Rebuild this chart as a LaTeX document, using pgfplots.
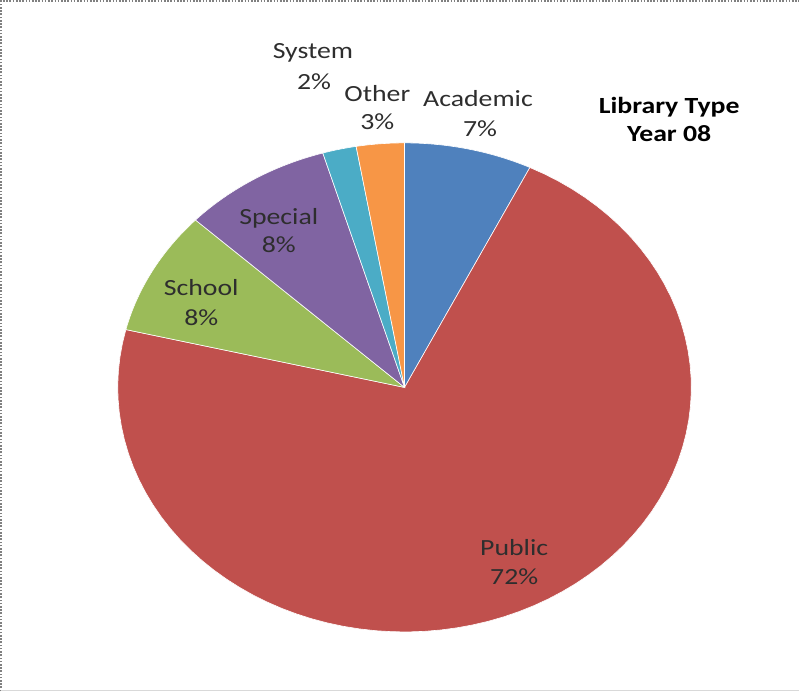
\documentclass[border=0pt]{standalone}
\usepackage{pgfplots}
\pgfplotsset{compat=1.18}
\usepackage{fontspec}
\setmainfont{Carlito}
\definecolor{cA}{HTML}{4F81BD}
\definecolor{cB}{HTML}{C0504D}
\definecolor{cC}{HTML}{9BBB59}
\definecolor{cD}{HTML}{8064A2}
\definecolor{cE}{HTML}{4BACC6}
\definecolor{cF}{HTML}{F79646}
% shares (%) : Academic, Public, School, Special, System, Other
\def\vA{7.2}\def\vB{71.6}\def\vC{8.2}\def\vD{8.4}\def\vE{1.9}\def\vF{2.7}
\tikzset{lbl/.style={font=\fontsize{23}{28}\selectfont, xscale=1.2, inner sep=0pt, anchor=base, text=black!82}}
\begin{document}
\begin{tikzpicture}
\pgfmathsetmacro\aA{0}
\pgfmathsetmacro\aB{\aA+3.6*\vA}
\pgfmathsetmacro\aC{\aB+3.6*\vB}
\pgfmathsetmacro\aD{\aC+3.6*\vC}
\pgfmathsetmacro\aE{\aD+3.6*\vD}
\pgfmathsetmacro\aF{\aE+3.6*\vE}
\pgfmathsetmacro\aG{\aF+3.6*\vF}
\begin{axis}[
  scale only axis, width=800pt, height=694pt,
  xmin=0, xmax=800, ymin=0, ymax=694,
  hide axis, clip=false,
  pie/.style={draw=white, line width=0.6pt, samples=80, variable=\t},
]
\addplot[pie, fill=cA, domain=\aA:\aB] ({407+285*sin(t)},{303+243*cos(t)}) -- (407,303) -- cycle;
\addplot[pie, fill=cB, domain=\aB:\aC] ({407+285*sin(t)},{303+243*cos(t)}) -- (407,303) -- cycle;
\addplot[pie, fill=cC, domain=\aC:\aD] ({407+285*sin(t)},{303+243*cos(t)}) -- (407,303) -- cycle;
\addplot[pie, fill=cD, domain=\aD:\aE] ({407+285*sin(t)},{303+243*cos(t)}) -- (407,303) -- cycle;
\addplot[pie, fill=cE, domain=\aE:\aF] ({407+285*sin(t)},{303+243*cos(t)}) -- (407,303) -- cycle;
\addplot[pie, fill=cF, domain=\aF:\aG] ({407+285*sin(t)},{303+243*cos(t)}) -- (407,303) -- cycle;
% frame
\draw[black!50, dash pattern=on 1.6pt off 1.6pt, line width=2pt] (6,1) -- (6,687) -- (799,687);
\draw[black!15, line width=1pt] (6,1.5) -- (799,1.5);
% labels
\node[lbl] at (316,630) {System};
\node[lbl] at (317,599) {2\%};
\node[lbl] at (380,587) {Other};
\node[lbl] at (380,559) {3\%};
\node[lbl] at (480,582) {Academic};
\node[lbl] at (482,552) {7\%};
\node[lbl] at (282,465) {Special};
\node[lbl] at (282,437) {8\%};
\node[lbl] at (205,394) {School};
\node[lbl] at (205,365) {8\%};
\node[lbl] at (516,136) {Public};
\node[lbl] at (516,107) {72\%};
\node[lbl, text=black] at (670,575) {\bfseries Library Type};
\node[lbl, text=black] at (670,547) {\bfseries Year 08};
\end{axis}
\end{tikzpicture}
\end{document}
